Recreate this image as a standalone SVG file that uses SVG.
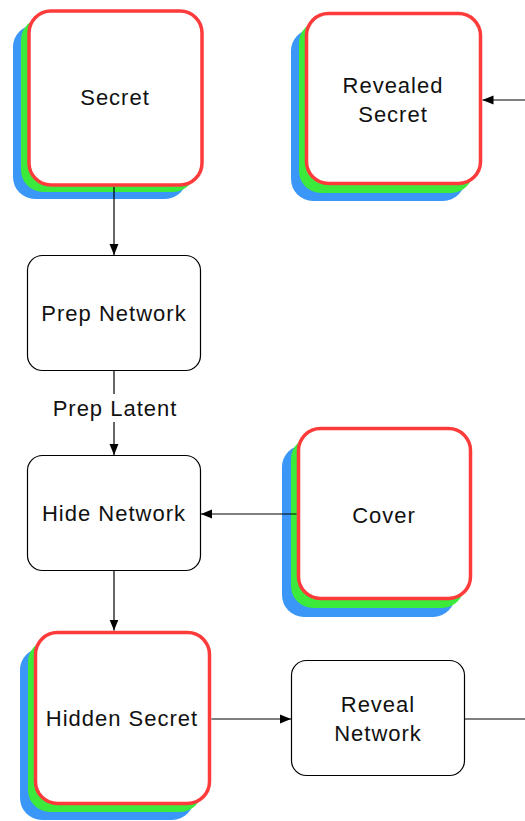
<svg xmlns="http://www.w3.org/2000/svg" width="525" height="821" viewBox="0 0 525 821">
  <defs>
    <marker id="arrow" markerUnits="userSpaceOnUse" markerWidth="11" markerHeight="10" refX="11" refY="5" orient="auto">
      <path d="M0,0.5 L11,5 L0,9.5 z" fill="#000"/>
    </marker>
  </defs>
  <style>
    .blue { fill: #3a96f7; }
    .green { fill: #3bea3b; }
    .red { fill: #ffffff; stroke: #fe3b3b; stroke-width: 3.5; }
    .box { fill: #ffffff; stroke: #000; stroke-width: 1.2; }
    .lbl { font-family: "Liberation Sans", Arial, Helvetica, sans-serif; font-size: 22px; letter-spacing: 1px; fill: #111; text-anchor: middle; dominant-baseline: central; }
    .edge { fill: none; stroke: #000; stroke-width: 1.2; }
  </style>

  <g id="secret">
    <rect class="blue" x="13" y="25" width="174" height="174" rx="22"/>
    <rect class="green" x="21" y="18" width="174" height="174" rx="22"/>
    <rect class="red" x="29" y="11" width="173" height="174" rx="22"/>
    <text class="lbl" x="115" y="97">Secret</text>
  </g>

  <g id="revealed-secret">
    <rect class="blue" x="291" y="29" width="174" height="172" rx="22"/>
    <rect class="green" x="299" y="21" width="174" height="172" rx="22"/>
    <rect class="red" x="306.5" y="13.5" width="174" height="170" rx="22"/>
    <text class="lbl" x="393" y="85">Revealed</text>
    <text class="lbl" x="393" y="114">Secret</text>
  </g>

  <g id="prep-network">
    <rect class="box" x="27.5" y="255.5" width="173" height="115" rx="15"/>
    <text class="lbl" x="114" y="313">Prep Network</text>
  </g>

  <g id="hide-network">
    <rect class="box" x="27.5" y="455.5" width="173" height="115" rx="15"/>
    <text class="lbl" x="114" y="513">Hide Network</text>
  </g>

  <g id="cover">
    <rect class="blue" x="282" y="445" width="173" height="172" rx="22"/>
    <rect class="green" x="291" y="437" width="173" height="171" rx="22"/>
    <rect class="red" x="298.5" y="428.5" width="172" height="170" rx="22"/>
    <text class="lbl" x="384" y="515">Cover</text>
  </g>

  <g id="hidden-secret">
    <rect class="blue" x="20" y="648" width="174" height="172" rx="22"/>
    <rect class="green" x="28" y="640" width="174" height="172" rx="22"/>
    <rect class="red" x="35.5" y="632.5" width="174" height="171" rx="22"/>
    <text class="lbl" x="122" y="718">Hidden Secret</text>
  </g>

  <g id="reveal-network">
    <rect class="box" x="291.5" y="660.5" width="173" height="115" rx="15"/>
    <text class="lbl" x="378" y="704">Reveal</text>
    <text class="lbl" x="378" y="733">Network</text>
  </g>

  <g id="connectors">
    <line class="edge" x1="114" y1="187" x2="114" y2="255" marker-end="url(#arrow)"/>
    <line class="edge" x1="114" y1="371" x2="114" y2="455" marker-end="url(#arrow)"/>
    <rect x="52" y="394" width="124" height="28" fill="#ffffff"/>
    <text class="lbl" x="115" y="408">Prep Latent</text>
    <line class="edge" x1="296.5" y1="514" x2="201" y2="514" marker-end="url(#arrow)"/>
    <line class="edge" x1="114" y1="571" x2="114" y2="630.5" marker-end="url(#arrow)"/>
    <line class="edge" x1="211.5" y1="719" x2="291" y2="719" marker-end="url(#arrow)"/>
    <line class="edge" x1="465" y1="719" x2="525" y2="719"/>
    <line class="edge" x1="525" y1="100" x2="482.5" y2="100" marker-end="url(#arrow)"/>
  </g>
</svg>
